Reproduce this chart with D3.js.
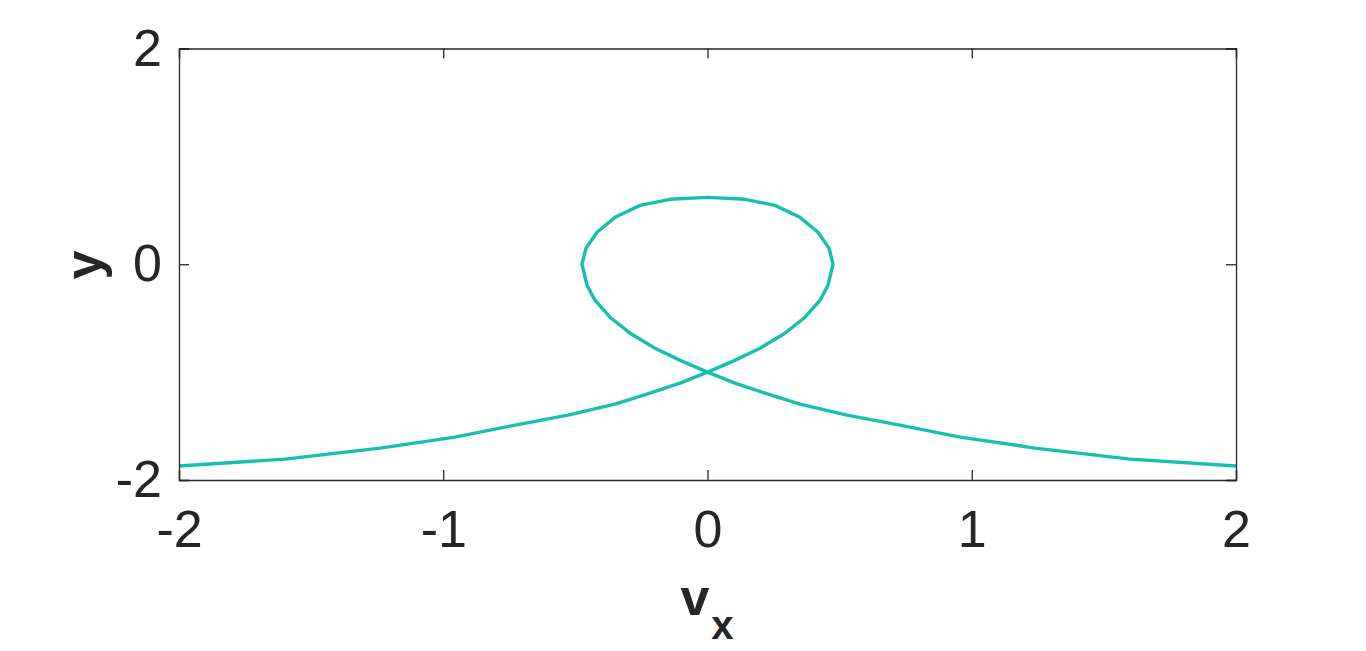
<!DOCTYPE html>
<html>
<head>
<meta charset="utf-8">
<script src="https://cdn.jsdelivr.net/npm/d3@7"></script>
<style>
  html, body { margin: 0; padding: 0; background: #fff; }
  svg { display: block; }
  text { font-family: "Liberation Sans", Arial, Helvetica, sans-serif; fill: #262626; }
</style>
</head>
<body>
<svg id="chart" width="1366" height="651"></svg>
<script>
// ---- data ----
const vx = [-2.0, -1.599, -1.239, -0.956, -0.728, -0.528, -0.350, -0.229, -0.104, 0.0,
            0.097, 0.199, 0.293, 0.369, 0.426, 0.456, 0.475, 0.46, 0.418, 0.35, 0.255, 0.142,
            0.0, -0.142, -0.255, -0.35, -0.418, -0.46, -0.475, -0.456, -0.426, -0.369, -0.293,
            -0.199, -0.097, 0.0, 0.104, 0.229, 0.350, 0.528, 0.728, 0.956, 1.239, 1.599, 2.0];
const yv = [-1.87, -1.806, -1.704, -1.602, -1.491, -1.398, -1.296, -1.204, -1.102, -1.0,
            -0.898, -0.778, -0.639, -0.491, -0.333, -0.194, 0.0, 0.148, 0.296, 0.435, 0.546, 0.602,
            0.62, 0.602, 0.546, 0.435, 0.296, 0.148, 0.0, -0.194, -0.333, -0.491, -0.639,
            -0.778, -0.898, -1.0, -1.102, -1.204, -1.296, -1.398, -1.491, -1.602, -1.704, -1.806, -1.87];
const xTicks = [-2, -1, 0, 1, 2];
const yTicks = [-2, 0, 2];
const xDomain = [-2, 2];
const yDomain = [-2, 2];

// ---- layout ----
const L = 179, R = 1236, T = 48.5, B = 480;
const svg = d3.select("#chart");
const x = d3.scaleLinear().domain(xDomain).range([L, R]);
const y = d3.scaleLinear().domain(yDomain).range([B, T]);
const axisColor = "#262626";
const fs = 52;

svg.append("defs").append("clipPath").attr("id", "clip")
  .append("rect").attr("x", L).attr("y", T).attr("width", R - L).attr("height", B - T);

// curve
const pts = vx.map((d, i) => [d, yv[i]]);
svg.append("path")
  .datum(pts)
  .attr("clip-path", "url(#clip)")
  .attr("fill", "none")
  .attr("stroke", "#17bfb1")
  .attr("stroke-width", 3.4)
  .attr("stroke-linejoin", "round")
  .attr("d", d3.line().x(d => x(d[0])).y(d => y(d[1])));

// axes
const numFmt = d => String(d);
function styleAxis(g) {
  g.select(".domain").attr("stroke", axisColor).attr("stroke-width", 1.3);
  g.selectAll(".tick line").attr("stroke", axisColor).attr("stroke-width", 1.3);
  g.selectAll("text").attr("font-size", fs).attr("fill", axisColor)
    .attr("font-family", '"Liberation Sans", Arial, sans-serif');
}
const gb = svg.append("g").attr("transform", `translate(0,${B})`)
  .call(d3.axisBottom(x).tickValues(xTicks).tickSize(-10).tickPadding(30).tickFormat(numFmt));
styleAxis(gb);
const gt = svg.append("g").attr("transform", `translate(0,${T})`)
  .call(d3.axisTop(x).tickValues(xTicks).tickSize(-10).tickFormat(() => ""));
styleAxis(gt);
const gl = svg.append("g").attr("transform", `translate(${L},0)`)
  .call(d3.axisLeft(y).tickValues(yTicks).tickSize(-10).tickPadding(17).tickFormat(numFmt));
styleAxis(gl);
const gr = svg.append("g").attr("transform", `translate(${R},0)`)
  .call(d3.axisRight(y).tickValues(yTicks).tickSize(-10).tickFormat(() => ""));
styleAxis(gr);

// axis labels
const xl = svg.append("text")
  .attr("x", 707).attr("y", 615)
  .attr("text-anchor", "middle")
  .attr("font-weight", "bold").attr("font-size", fs);
xl.append("tspan").text("v");
xl.append("tspan").attr("font-size", 40).attr("dy", 24).attr("dx", 2).text("x");

svg.append("text")
  .attr("transform", "translate(101,265) rotate(-90)")
  .attr("text-anchor", "middle")
  .attr("font-weight", "bold").attr("font-size", fs)
  .text("y");
</script>
</body>
</html>
